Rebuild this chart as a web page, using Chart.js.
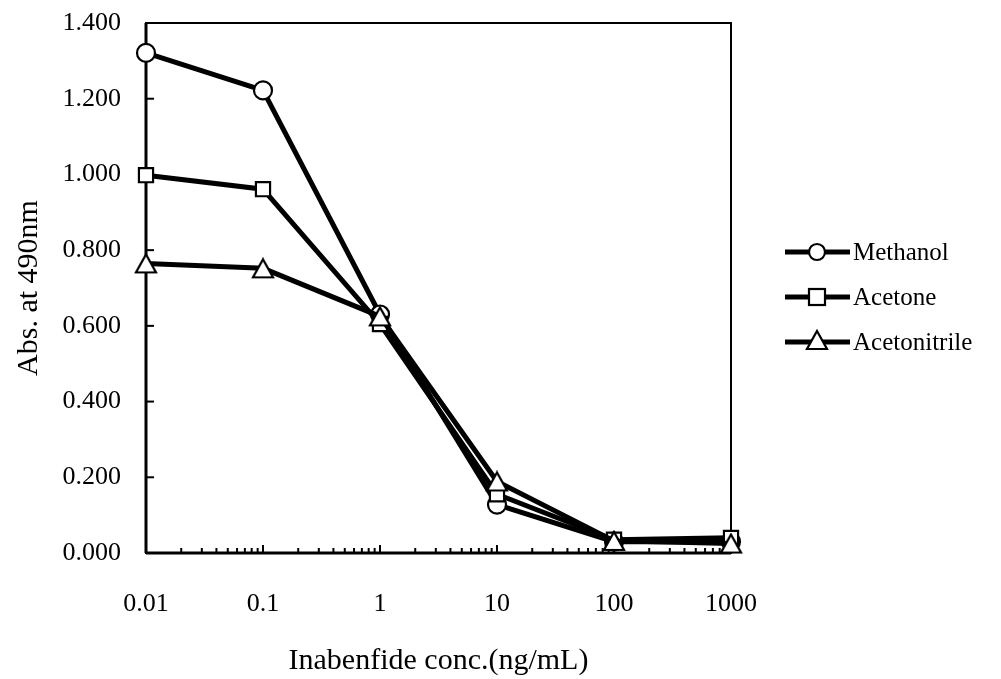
<!DOCTYPE html>
<html><head><meta charset="utf-8">
<script src="https://cdn.jsdelivr.net/npm/chart.js@4.4.1/dist/chart.umd.min.js"></script>
<style>html,body{margin:0;padding:0;background:#fff}#wrap{width:1001px;height:679px}</style>
</head><body><div id="wrap"><canvas id="c" width="1001" height="679"></canvas></div>
<script>
const concentrations = [0.01, 0.1, 1, 10, 100, 1000];
const methanol = [1.321, 1.222, 0.630, 0.128, 0.030, 0.030];
const acetone = [0.998, 0.961, 0.605, 0.155, 0.035, 0.040];
const acetonitrile = [0.765, 0.752, 0.625, 0.189, 0.032, 0.025];
const seriesNames = ['Methanol', 'Acetone', 'Acetonitrile'];
const yTicks = [0, 0.2, 0.4, 0.6, 0.8, 1.0, 1.2, 1.4];
const xMajorTicks = [0.01, 0.1, 1, 10, 100, 1000];

const FONT = "'Liberation Serif', 'Times New Roman', serif";
const FS = 26;
const FT = 30;
const FL = 25;
const triangle = (() => {
  const c = document.createElement('canvas'); c.width = 24; c.height = 22;
  const g = c.getContext('2d');
  g.beginPath(); g.moveTo(12, 2); g.lineTo(22, 20); g.lineTo(2, 20); g.closePath();
  g.fillStyle = '#fff'; g.fill(); g.lineWidth = 2.2; g.strokeStyle = '#000'; g.stroke();
  return c;
})();
const styles = [
  {pointStyle: 'circle', pointRadius: 9, order: 2},
  {pointStyle: 'rect', pointRadius: 10, order: 1},
  {pointStyle: triangle, pointRadius: 10, order: 0}
];
const seriesData = [methanol, acetone, acetonitrile];

const frame = {
  id: 'frame',
  beforeDatasetsDraw(chart) {
    const {ctx, chartArea: a, scales: {x, y}} = chart;
    ctx.save();
    ctx.strokeStyle = '#000';
    ctx.lineWidth = 2;
    ctx.strokeRect(a.left, a.top, a.right - a.left, a.bottom - a.top);
    ctx.lineWidth = 3;
    ctx.beginPath(); ctx.moveTo(a.left, a.bottom); ctx.lineTo(a.right, a.bottom); ctx.stroke();
    ctx.beginPath(); ctx.moveTo(a.left, a.top); ctx.lineTo(a.left, a.bottom); ctx.stroke();
    ctx.lineWidth = 2;
    yTicks.forEach(v => {
      const py = y.getPixelForValue(v);
      ctx.beginPath(); ctx.moveTo(a.left, py); ctx.lineTo(a.left + 8, py); ctx.stroke();
    });
    for (let e = -2; e < 3; e++) {
      for (let m = 2; m <= 10; m++) {
        const v = m * Math.pow(10, e);
        const px = x.getPixelForValue(v);
        const len = m === 10 ? 8 : 5;
        ctx.beginPath(); ctx.moveTo(px, a.bottom); ctx.lineTo(px, a.bottom - len); ctx.stroke();
      }
    }
    ctx.restore();
  },
  afterDatasetsDraw(chart) {
    const {ctx} = chart;
    ctx.save();
    ctx.strokeStyle = '#000';
    ctx.font = FL + 'px ' + FONT;
    ctx.textBaseline = 'middle';
    const ly = [252, 297, 342];
    seriesNames.forEach((n, i) => {
      const yy = ly[i];
      ctx.lineWidth = 5;
      ctx.beginPath(); ctx.moveTo(785, yy); ctx.lineTo(850, yy); ctx.stroke();
      ctx.lineWidth = 2.2; ctx.fillStyle = '#fff';
      if (i === 0) { ctx.beginPath(); ctx.arc(817, yy, 8, 0, Math.PI * 2); ctx.fill(); ctx.stroke(); }
      else if (i === 1) { ctx.fillRect(809, yy - 8, 16, 16); ctx.strokeRect(809, yy - 8, 16, 16); }
      else { ctx.drawImage(triangle, 805, yy - 13); }
      ctx.fillStyle = '#000';
      ctx.fillText(n, 853, yy + 1);
    });
    ctx.restore();
  }
};

new Chart(document.getElementById('c'), {
  type: 'line',
  data: {
    datasets: seriesNames.map((n, i) => ({
      label: n,
      data: concentrations.map((c, j) => ({x: c, y: seriesData[i][j]})),
      borderColor: '#000', borderWidth: 5,
      backgroundColor: '#fff', pointBackgroundColor: '#fff',
      pointBorderColor: '#000', pointBorderWidth: 2.2,
      pointStyle: styles[i].pointStyle, pointRadius: styles[i].pointRadius,
      order: styles[i].order, clip: false,
      tension: 0, fill: false
    }))
  },
  options: {
    responsive: false, animation: false,
    layout: {padding: {top: 23, right: 270, left: 0, bottom: 0}},
    plugins: {legend: {display: false}, tooltip: {enabled: false}},
    scales: {
      x: {
        type: 'logarithmic', min: 0.01, max: 1000,
        afterBuildTicks(s) { s.ticks = xMajorTicks.map(v => ({value: v})); },
        afterFit(s) { s.height = 126; },
        grid: {display: false, drawTicks: false},
        border: {display: false},
        ticks: {color: '#000', font: {family: FONT, size: FS}, padding: 36, maxRotation: 0,
          callback: v => String(v)},
        title: {display: true, text: 'Inabenfide conc.(ng/mL)', color: '#000',
          font: {family: FONT, size: FT}, padding: {top: 10, bottom: 0}}
      },
      y: {
        min: 0, max: 1.4,
        afterBuildTicks(s) { s.ticks = yTicks.map(v => ({value: v})); },
        afterFit(s) { s.width = 146; s.paddingTop = 0; s.paddingBottom = 0; },
        grid: {display: false, drawTicks: false},
        border: {display: false},
        ticks: {color: '#000', font: {family: FONT, size: FS}, padding: 25,
          callback: v => Number(v).toFixed(3)},
        title: {display: true, text: 'Abs. at 490nm', color: '#000',
          font: {family: FONT, size: FT}, padding: {top: 11, bottom: 0}}
      }
    }
  },
  plugins: [frame]
});
</script></body></html>
